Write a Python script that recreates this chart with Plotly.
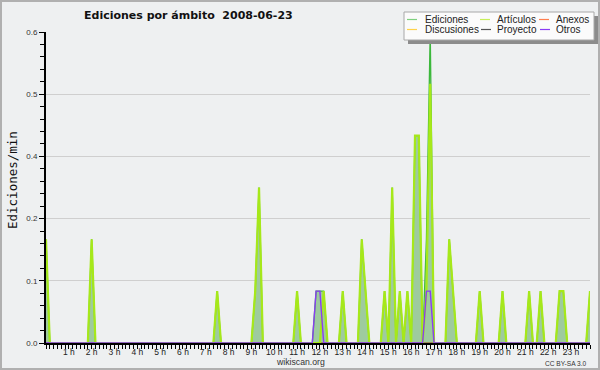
import plotly.graph_objects as go

# ---- data: edits per minute, 10-minute bins from 00:00 to 23:50 ----
bin_minutes = [10 * i for i in range(144)]

# each row = 12 bins (2 hours)
ediciones = [
    0.2, 0, 0, 0, 0, 0, 0, 0, 0, 0, 0, 0,
    0.2, 0, 0, 0, 0, 0, 0, 0, 0, 0, 0, 0,
    0, 0, 0, 0, 0, 0, 0, 0, 0, 0, 0, 0,
    0, 0, 0, 0, 0, 0, 0, 0, 0, 0.1, 0, 0,
    0, 0, 0, 0, 0, 0, 0, 0.1, 0.3, 0, 0, 0,
    0, 0, 0, 0, 0, 0, 0.1, 0, 0, 0, 0, 0.1,
    0.1, 0.1, 0, 0, 0, 0, 0.1, 0, 0, 0, 0, 0.2,
    0.1, 0, 0, 0, 0, 0.1, 0, 0.3, 0, 0.1, 0, 0.1,
    0, 0.4, 0.4, 0, 0.2, 0.6, 0, 0, 0, 0, 0.2, 0.1,
    0, 0, 0, 0, 0, 0, 0.1, 0, 0, 0, 0, 0,
    0.1, 0, 0, 0, 0, 0, 0, 0.1, 0, 0, 0.1, 0,
    0, 0, 0, 0.1, 0.1, 0, 0, 0, 0, 0, 0, 0.1,
]
articulos = [
    0.2, 0, 0, 0, 0, 0, 0, 0, 0, 0, 0, 0,
    0.2, 0, 0, 0, 0, 0, 0, 0, 0, 0, 0, 0,
    0, 0, 0, 0, 0, 0, 0, 0, 0, 0, 0, 0,
    0, 0, 0, 0, 0, 0, 0, 0, 0, 0.1, 0, 0,
    0, 0, 0, 0, 0, 0, 0, 0.1, 0.3, 0, 0, 0,
    0, 0, 0, 0, 0, 0, 0.1, 0, 0, 0, 0, 0,
    0, 0.1, 0, 0, 0, 0, 0.1, 0, 0, 0, 0, 0.2,
    0.1, 0, 0, 0, 0, 0.1, 0, 0.3, 0, 0.1, 0, 0.1,
    0, 0.4, 0.4, 0, 0.1, 0.5, 0, 0, 0, 0, 0.2, 0.1,
    0, 0, 0, 0, 0, 0, 0.1, 0, 0, 0, 0, 0,
    0.1, 0, 0, 0, 0, 0, 0, 0.1, 0, 0, 0.1, 0,
    0, 0, 0, 0.1, 0.1, 0, 0, 0, 0, 0, 0, 0.1,
]
otros = [
    0, 0, 0, 0, 0, 0, 0, 0, 0, 0, 0, 0,
    0, 0, 0, 0, 0, 0, 0, 0, 0, 0, 0, 0,
    0, 0, 0, 0, 0, 0, 0, 0, 0, 0, 0, 0,
    0, 0, 0, 0, 0, 0, 0, 0, 0, 0, 0, 0,
    0, 0, 0, 0, 0, 0, 0, 0, 0, 0, 0, 0,
    0, 0, 0, 0, 0, 0, 0, 0, 0, 0, 0, 0.1,
    0.1, 0, 0, 0, 0, 0, 0, 0, 0, 0, 0, 0,
    0, 0, 0, 0, 0, 0, 0, 0, 0, 0, 0, 0,
    0, 0, 0, 0, 0.1, 0.1, 0, 0, 0, 0, 0, 0,
    0, 0, 0, 0, 0, 0, 0, 0, 0, 0, 0, 0,
    0, 0, 0, 0, 0, 0, 0, 0, 0, 0, 0, 0,
    0, 0, 0, 0, 0, 0, 0, 0, 0, 0, 0, 0,
]
zeros_row = [0, 0, 0, 0, 0, 0, 0, 0, 0, 0, 0, 0]
anexos = zeros_row * 12
discusiones = zeros_row * 12
proyecto = zeros_row * 12

hour_ticks = [60 * h for h in range(1, 24)]
hour_labels = ["%d h" % h for h in range(1, 24)]
y_ticks = [0, 0.12, 0.24, 0.36, 0.48, 0.6]
y_labels = ["0.0", "0.1", "0.2", "0.4", "0.5", "0.6"]

series_names = ["Ediciones", "Artículos", "Anexos", "Discusiones", "Proyecto", "Otros"]
series_colors = ["#3cb83c", "#a6e81a", "#ff7f4f", "#ffd24a", "#555555", "#8a3cf5"]
legend_swatch_colors = ["#7fd07f", "#c8ef5a", "#ff7f4f", "#ffd24a", "#555555", "#8a3cf5"]

BG = "#eef0f1"

fig = go.Figure()
fig.add_trace(go.Scatter(x=bin_minutes, y=ediciones, name="Ediciones", mode="lines",
                         fill="tozeroy", fillcolor="#9ecb9e",
                         line=dict(color=series_colors[0], width=1.3), showlegend=False))
fig.add_trace(go.Scatter(x=bin_minutes, y=anexos, name="Anexos", mode="lines",
                         line=dict(color=series_colors[2], width=1), showlegend=False))
fig.add_trace(go.Scatter(x=bin_minutes, y=discusiones, name="Discusiones", mode="lines",
                         line=dict(color=series_colors[3], width=1), showlegend=False))
fig.add_trace(go.Scatter(x=bin_minutes, y=proyecto, name="Proyecto", mode="lines",
                         line=dict(color=series_colors[4], width=1), showlegend=False))
fig.add_trace(go.Scatter(x=bin_minutes, y=articulos, name="Artículos", mode="lines",
                         line=dict(color=series_colors[1], width=2.2), showlegend=False))
fig.add_trace(go.Scatter(x=bin_minutes, y=otros, name="Otros", mode="lines",
                         line=dict(color=series_colors[5], width=1.4), showlegend=False))

L, R, T, B = 46, 590, 32, 343


def px(x):
    return (x - L) / (R - L)


def py(y):
    return (B - y) / (B - T)


shapes = []
annotations = []

# outer frame
shapes.append(dict(type="rect", xref="paper", yref="paper",
                   x0=px(1), x1=px(599), y0=py(369), y1=py(1),
                   line=dict(color="#b0b0b0", width=2), fillcolor="rgba(0,0,0,0)", layer="below"))

# legend box with shadow
shapes.append(dict(type="rect", xref="paper", yref="paper",
                   x0=px(408), x1=px(598), y0=py(44), y1=py(16),
                   line=dict(width=0), fillcolor="#8c8c8c", layer="above"))
shapes.append(dict(type="rect", xref="paper", yref="paper",
                   x0=px(404), x1=px(594), y0=py(40), y1=py(12),
                   line=dict(color="#a8a8a8", width=1), fillcolor="#fbfbfb", layer="above"))

legend_items = [
    (0, 407, 424, 19.5), (1, 480, 496, 19.5), (2, 539, 555, 19.5),
    (3, 407, 424, 29.5), (4, 481, 496, 29.5), (5, 540, 555, 29.5),
]
for idx, sx, tx, yy in legend_items:
    shapes.append(dict(type="line", xref="paper", yref="paper",
                       x0=px(sx), x1=px(sx + 10), y0=py(yy), y1=py(yy),
                       line=dict(color=legend_swatch_colors[idx], width=1.2), layer="above"))
    annotations.append(dict(xref="paper", yref="paper", x=px(tx - 1), y=py(yy),
                            xanchor="left", yanchor="middle", showarrow=False,
                            text=series_names[idx],
                            font=dict(family="Liberation Sans", size=10, color="#222222")))

# title
annotations.append(dict(xref="paper", yref="paper", x=px(188), y=py(15),
                        xanchor="center", yanchor="middle", showarrow=False,
                        text="Ediciones por ámbito\u00a0\u00a02008-06-23",
                        font=dict(family="DejaVu Sans", size=11, color="#111111", weight="bold")))
# y-axis title
annotations.append(dict(xref="paper", yref="paper", x=px(12), y=py(180),
                        xanchor="center", yanchor="middle", showarrow=False, textangle=-90,
                        text="Ediciones/min",
                        font=dict(family="DejaVu Sans Mono", size=12.5, color="#111111")))
# footer texts
annotations.append(dict(xref="paper", yref="paper", x=px(300), y=py(362),
                        xanchor="center", yanchor="middle", showarrow=False,
                        text="wikiscan.org",
                        font=dict(family="Liberation Sans", size=8.7, color="#333333")))
annotations.append(dict(xref="paper", yref="paper", x=px(589), y=py(363),
                        xanchor="right", yanchor="middle", showarrow=False,
                        text="CC BY-SA 3.0",
                        font=dict(family="Liberation Sans", size=6.6, color="#333333")))

fig.update_layout(
    width=600, height=370,
    margin=dict(l=L, r=600 - R, t=T, b=370 - B),
    paper_bgcolor=BG, plot_bgcolor=BG,
    showlegend=False,
    shapes=shapes, annotations=annotations,
    xaxis=dict(range=[0, 1430], tickmode="array", tickvals=hour_ticks, ticktext=hour_labels,
               ticks="outside", ticklen=4, tickwidth=1, tickcolor="#000000",
               ticklabelstandoff=-4,
               minor=dict(tickmode="linear", tick0=0, dtick=10, ticks="outside",
                          ticklen=4, tickwidth=1, tickcolor="#000000", showgrid=False),
               showgrid=False, zeroline=False, showline=True, linecolor="#000000", linewidth=2,
               tickfont=dict(family="Liberation Sans", size=8.5, color="#222222"),
               fixedrange=True),
    yaxis=dict(range=[0, 0.6], tickmode="array", tickvals=y_ticks, ticktext=y_labels,
               ticks="outside", ticklen=5, tickwidth=1, tickcolor="#000000",
               minor=dict(tickmode="linear", tick0=0, dtick=0.024, ticks="outside",
                          ticklen=4, tickwidth=1, tickcolor="#000000", showgrid=False),
               showgrid=True, gridcolor="#cfcfcf", gridwidth=1,
               zeroline=False, showline=True, linecolor="#000000", linewidth=2,
               tickfont=dict(family="Liberation Sans", size=8, color="#333333"),
               fixedrange=True),
)

fig.write_html("out.html", config={"displayModeBar": False},
               post_script="document.body.style.margin='0';document.body.style.overflow='hidden';")
